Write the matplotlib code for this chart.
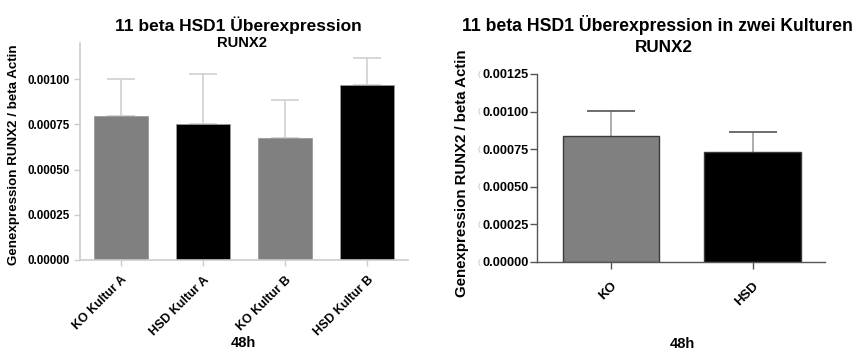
import matplotlib
matplotlib.use("Agg")
import matplotlib.pyplot as plt

plt.rcParams['font.family'] = ['Liberation Sans', 'DejaVu Sans']
plt.rcParams['font.weight'] = 'bold'

# Panel 1: four cultures
cats_a = ["KO Kultur A", "HSD Kultur A", "KO Kultur B", "HSD Kultur B"]
means_a = [0.000795, 0.000750, 0.000673, 0.000966]
errs_a = [0.000205, 0.000277, 0.000214, 0.000150]
colors_a = ["#808080", "#000000", "#808080", "#000000"]

# Panel 2: pooled cultures
cats_b = ["KO", "HSD"]
means_b = [0.000836, 0.000733]
errs_b = [0.000166, 0.000129]
colors_b = ["#808080", "#000000"]

ticks_a = [0, 0.00025, 0.0005, 0.00075, 0.001]
ticks_b = [0, 0.00025, 0.0005, 0.00075, 0.001, 0.00125]

W, H = 854, 351
fig = plt.figure(figsize=(W / 100, H / 100), dpi=100)


def px(l, t, r, b):
    return [l / W, 1 - b / H, (r - l) / W, (b - t) / H]


# ---------- left panel ----------
ax1 = fig.add_axes(px(80, 43, 408, 260))
x1 = range(len(cats_a))
ax1.bar(x1, means_a, width=0.67, color=colors_a, edgecolor="#9a9a9a",
        linewidth=0.6, zorder=2)
ax1.errorbar(x1, means_a, yerr=[[0] * len(errs_a), errs_a], fmt="none",
             ecolor="#cfcfcf", elinewidth=1.2, capsize=10, capthick=1.2,
             zorder=1)
ax1.set_xlim(-0.5, 3.5)
ax1.set_ylim(0, 0.0012)
ax1.set_yticks(ticks_a)
ax1.set_yticklabels([f"{v:.5f}" for v in ticks_a], fontsize=8.4,
                    fontweight="bold")
ax1.set_xticks(list(x1))
ax1.set_xticklabels(cats_a, rotation=45, ha="right", rotation_mode="anchor",
                    fontsize=8.9, fontweight="bold")
for s in ["top", "right"]:
    ax1.spines[s].set_visible(False)
for s in ["left", "bottom"]:
    ax1.spines[s].set_color("#cccccc")
    ax1.spines[s].set_linewidth(1.2)
ax1.tick_params(axis="both", colors="#cccccc", labelcolor="black",
                length=4, width=1.0)
ax1.tick_params(axis="x", pad=6)
ax1.set_ylabel("Genexpression RUNX2 / beta Actin", fontsize=9.6,
               fontweight="bold")
ax1.yaxis.set_label_coords(-0.183, 0.484)
ax1.set_xlabel("48h", fontsize=10.5, fontweight="bold")
ax1.xaxis.set_label_coords((243 - 80) / 328, (260 - 343) / 217)
ax1.xaxis.label.set_va("center")
fig.text(238 / W, 1 - 25 / H, "11 beta HSD1 Überexpression", ha="center",
         va="center", fontsize=12.5, fontweight="bold")
fig.text(242 / W, 1 - 43 / H, "RUNX2", ha="center", va="center",
         fontsize=10.6, fontweight="bold")

# ---------- right panel ----------
ax2 = fig.add_axes(px(537, 74, 825, 262))
x2 = range(len(cats_b))
ax2.bar(x2, means_b, width=0.68, color=colors_b, edgecolor="#3a3a3a",
        linewidth=1.0, zorder=2)
ax2.errorbar(x2, means_b, yerr=[[0] * len(errs_b), errs_b], fmt="none",
             ecolor="#a0a0a0", elinewidth=1.2, capsize=0, zorder=1)
ax2.errorbar(x2, [m + e for m, e in zip(means_b, errs_b)], xerr=0.17,
             fmt="none", ecolor="#555555", elinewidth=1.2, capsize=0,
             zorder=1)
ax2.set_xlim(-0.52, 1.51)
ax2.set_ylim(0, 0.00125)
ax2.set_yticks(ticks_b)
ax2.set_yticklabels([f"{v:.5f}" for v in ticks_b], fontsize=9.2,
                    fontweight="bold")
ax2.set_xticks(list(x2))
ax2.set_xticklabels(cats_b, rotation=45, ha="right", rotation_mode="anchor",
                    fontsize=9.5, fontweight="bold")
for s in ["top", "right"]:
    ax2.spines[s].set_visible(False)
for s in ["left", "bottom"]:
    ax2.spines[s].set_color("#555555")
    ax2.spines[s].set_linewidth(1.0)
ax2.tick_params(axis="both", colors="#555555", labelcolor="black",
                length=5, width=1.0)
ax2.tick_params(axis="y", pad=1)
ax2.tick_params(axis="x", pad=8)
ax2.set_ylabel("Genexpression RUNX2 / beta Actin", fontsize=10.8,
               fontweight="bold")
ax2.yaxis.set_label_coords(-0.236, 0.47)
ax2.set_xlabel("48h", fontsize=10.5, fontweight="bold")
ax2.xaxis.set_label_coords((682 - 537) / 288, (262 - 344) / 188)
ax2.xaxis.label.set_va("center")
for v in ticks_b:
    ax2.annotate("(", xy=(0, v), xycoords=("axes fraction", "data"),
                 xytext=(-41.5, 0), textcoords="offset points", ha="center",
                 va="center", fontsize=6, color="#bbbbbb",
                 fontweight="normal")
fig.text(657 / W, 1 - 25 / H, "11 beta HSD1 Überexpression in zwei Kulturen",
         ha="center", va="center", fontsize=12.7, fontweight="bold")
fig.text(664 / W, 1 - 47 / H, "RUNX2", ha="center", va="center",
         fontsize=12.3, fontweight="bold")

fig.savefig("out.png", dpi=100)
